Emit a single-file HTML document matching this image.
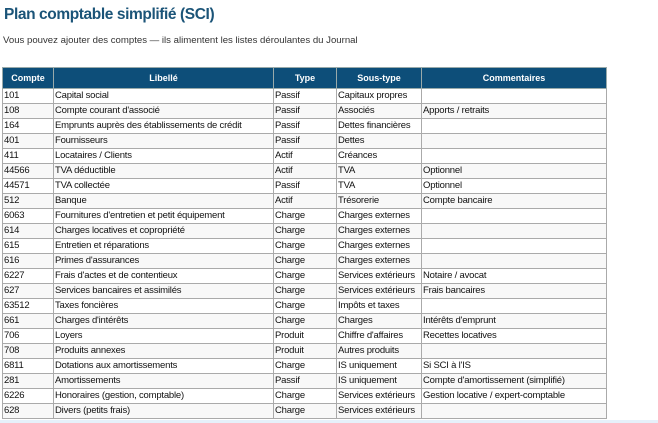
<!DOCTYPE html>
<html><head><meta charset="utf-8"><style>
html,body{margin:0;padding:0;width:658px;height:423px;overflow:hidden;background:#fff;font-family:"Liberation Sans","DejaVu Sans",sans-serif}
h1{position:absolute;left:4px;top:6px;margin:0;font-size:15.5px;font-weight:bold;color:#1b5478;letter-spacing:-0.4px}
.sub{position:absolute;left:3px;top:35px;font-size:9.6px;color:#333}
table{position:absolute;left:2px;top:67px;width:604px;border-collapse:collapse;table-layout:fixed;font-size:9.5px;color:#111}
th{background:#0d4e79;color:#fff;font-weight:bold;height:20px;border:1px solid #9aa;padding:0;font-size:9px}
td{height:14px;border:1px solid #aaa;padding:0 1px;white-space:nowrap;overflow:hidden;line-height:14px;letter-spacing:-0.2px}
tr:nth-child(even) td{background:#f8f8f8}
.strip{position:absolute;left:0;top:420px;width:658px;height:3px;background:#e6f0fa}
</style></head><body>
<h1>Plan comptable simplifié (SCI)</h1>
<div class="sub">Vous pouvez ajouter des comptes — ils alimentent les listes déroulantes du Journal</div>
<table>
<colgroup><col style="width:51px"><col style="width:220px"><col style="width:63px"><col style="width:85px"><col style="width:185px"></colgroup>
<thead><tr><th>Compte</th><th>Libellé</th><th>Type</th><th>Sous-type</th><th>Commentaires</th></tr></thead>
<tbody>
<tr><td>101</td><td>Capital social</td><td>Passif</td><td>Capitaux propres</td><td></td></tr>
<tr><td>108</td><td>Compte courant d'associé</td><td>Passif</td><td>Associés</td><td>Apports / retraits</td></tr>
<tr><td>164</td><td>Emprunts auprès des établissements de crédit</td><td>Passif</td><td>Dettes financières</td><td></td></tr>
<tr><td>401</td><td>Fournisseurs</td><td>Passif</td><td>Dettes</td><td></td></tr>
<tr><td>411</td><td>Locataires / Clients</td><td>Actif</td><td>Créances</td><td></td></tr>
<tr><td>44566</td><td>TVA déductible</td><td>Actif</td><td>TVA</td><td>Optionnel</td></tr>
<tr><td>44571</td><td>TVA collectée</td><td>Passif</td><td>TVA</td><td>Optionnel</td></tr>
<tr><td>512</td><td>Banque</td><td>Actif</td><td>Trésorerie</td><td>Compte bancaire</td></tr>
<tr><td>6063</td><td>Fournitures d'entretien et petit équipement</td><td>Charge</td><td>Charges externes</td><td></td></tr>
<tr><td>614</td><td>Charges locatives et copropriété</td><td>Charge</td><td>Charges externes</td><td></td></tr>
<tr><td>615</td><td>Entretien et réparations</td><td>Charge</td><td>Charges externes</td><td></td></tr>
<tr><td>616</td><td>Primes d'assurances</td><td>Charge</td><td>Charges externes</td><td></td></tr>
<tr><td>6227</td><td>Frais d'actes et de contentieux</td><td>Charge</td><td>Services extérieurs</td><td>Notaire / avocat</td></tr>
<tr><td>627</td><td>Services bancaires et assimilés</td><td>Charge</td><td>Services extérieurs</td><td>Frais bancaires</td></tr>
<tr><td>63512</td><td>Taxes foncières</td><td>Charge</td><td>Impôts et taxes</td><td></td></tr>
<tr><td>661</td><td>Charges d'intérêts</td><td>Charge</td><td>Charges</td><td>Intérêts d'emprunt</td></tr>
<tr><td>706</td><td>Loyers</td><td>Produit</td><td>Chiffre d'affaires</td><td>Recettes locatives</td></tr>
<tr><td>708</td><td>Produits annexes</td><td>Produit</td><td>Autres produits</td><td></td></tr>
<tr><td>6811</td><td>Dotations aux amortissements</td><td>Charge</td><td>IS uniquement</td><td>Si SCI à l'IS</td></tr>
<tr><td>281</td><td>Amortissements</td><td>Passif</td><td>IS uniquement</td><td>Compte d'amortissement (simplifié)</td></tr>
<tr><td>6226</td><td>Honoraires (gestion, comptable)</td><td>Charge</td><td>Services extérieurs</td><td>Gestion locative / expert-comptable</td></tr>
<tr><td>628</td><td>Divers (petits frais)</td><td>Charge</td><td>Services extérieurs</td><td></td></tr>
</tbody></table>
<div class="strip"></div>
</body></html>
